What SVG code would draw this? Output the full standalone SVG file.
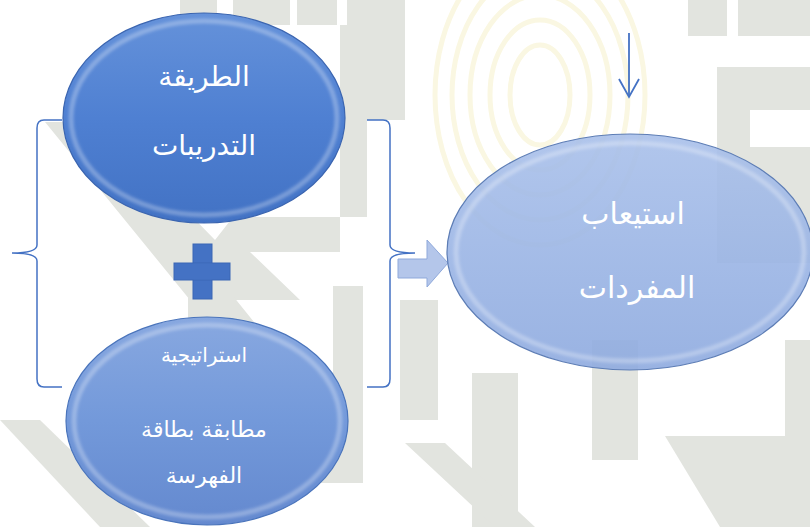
<svg xmlns="http://www.w3.org/2000/svg" width="810" height="527" viewBox="0 0 810 527">
  <defs>
    <style>
      .wm { fill: #e2e4df; }
      .arc { fill: none; stroke: #faf7e2; stroke-width: 5; }
      .lbl { font-family: "DejaVu Sans", sans-serif; fill: #ffffff; text-anchor: middle; }
      .brace { fill: none; stroke: #4472c4; stroke-width: 1.5; }
      .bevel { fill: none; stroke: #ffffff; stroke-width: 5; stroke-opacity: 0.28; filter: url(#soft); }
    </style>
    <filter id="soft" x="-10%" y="-10%" width="120%" height="120%">
      <feGaussianBlur stdDeviation="1.5"/>
    </filter>
    <linearGradient id="gTop" x1="0" y1="0" x2="0" y2="1">
      <stop offset="0" stop-color="#6592da"/>
      <stop offset="0.5" stop-color="#4f80d2"/>
      <stop offset="1" stop-color="#4272c4"/>
    </linearGradient>
    <linearGradient id="gBot" x1="0" y1="0" x2="0" y2="1">
      <stop offset="0" stop-color="#88a8e0"/>
      <stop offset="0.5" stop-color="#7399da"/>
      <stop offset="1" stop-color="#6489cf"/>
    </linearGradient>
    <linearGradient id="gRight" x1="0" y1="0" x2="0" y2="1">
      <stop offset="0" stop-color="#a9c0ea"/>
      <stop offset="0.5" stop-color="#9bb5e5"/>
      <stop offset="1" stop-color="#8eaadf"/>
    </linearGradient>
  </defs>

  <rect width="810" height="527" fill="#ffffff"/>

  <g id="watermark">
    <rect class="wm" x="180" y="0" width="37" height="25"/>
    <rect class="wm" x="233" y="0" width="57" height="25"/>
    <rect class="wm" x="297" y="0" width="40" height="25"/>
    <rect class="wm" x="347" y="0" width="58" height="25"/>
    <rect class="wm" x="688" y="0" width="39" height="36"/>
    <rect class="wm" x="738" y="0" width="72" height="36"/>
    <polygon class="wm" points="340,25 405,25 405,120 367,120 367,217 340,217"/>
    <polygon class="wm" points="45,122 100,122 215,240 233,217 340,217 340,252 250,252 300,300 190,300"/>
    <polygon class="wm" points="188,296 233,296 333,420 333,286 363,286 363,483 188,483"/>
    <polygon class="wm" points="400,300 438,300 438,420 400,420"/>
    <polygon class="wm" points="717,67 810,67 810,110 750,110 750,147 810,147 810,263 717,263"/>
    <polygon class="wm" points="472,373 518,373 518,527 472,527"/>
    <polygon class="wm" points="592,340 638,340 638,460 592,460"/>
    <polygon class="wm" points="785,340 810,340 810,436 785,436"/>
    <polygon class="wm" points="665,436 810,436 810,527 720,527"/>
    <polygon class="wm" points="405,443 445,443 535,527 495,527"/>
    <polygon class="wm" points="0,420 40,420 150,527 100,527"/>
    <g>
      <ellipse class="arc" cx="540" cy="95" rx="30" ry="50"/>
      <ellipse class="arc" cx="540" cy="95" rx="50" ry="75"/>
      <ellipse class="arc" cx="540" cy="95" rx="70" ry="100"/>
      <ellipse class="arc" cx="540" cy="95" rx="88" ry="125"/>
      <ellipse class="arc" cx="540" cy="95" rx="105" ry="150"/>
    </g>
  </g>

  <g id="connectors">
    <path class="brace" d="M62,120 L44,120 Q37,120 37,128 L37,245 Q37,253 12,253 Q37,253 37,261 L37,379 Q37,387 44,387 L62,387"/>
    <path class="brace" d="M367,120 L383,120 Q390,120 390,128 L390,245 Q390,253 415,253 Q390,253 390,261 L390,379 Q390,387 383,387 L367,387"/>
    <polygon points="398,259 427,259 427,240 448,263 427,287 427,278 398,278" fill="#b4c6ea" stroke="#8fa9db" stroke-width="1"/>
    <line x1="629" y1="33" x2="629" y2="96" stroke="#4472c4" stroke-width="1.8"/>
    <polyline points="619,79 629,97 639,79" fill="none" stroke="#4472c4" stroke-width="1.8"/>
  </g>

  <g id="node-plus">
    <rect x="193" y="244" width="19" height="55" fill="#4472c4" stroke="#3a66b5" stroke-width="1"/>
    <rect x="174" y="263" width="56" height="17" fill="#4472c4" stroke="#3a66b5" stroke-width="1"/>
    <rect x="193.5" y="263.5" width="18" height="16" fill="#4472c4"/>
  </g>

  <g id="node-method">
    <ellipse cx="204" cy="118" rx="141" ry="105" fill="url(#gTop)" stroke="#3b65b0" stroke-width="1.2"/>
    <ellipse class="bevel" cx="204" cy="118" rx="133" ry="97"/>
    <text class="lbl" x="204" y="86" font-size="28">الطريقة</text>
    <text class="lbl" x="204" y="155" font-size="28">التدريبات</text>
  </g>

  <g id="node-strategy">
    <ellipse cx="207" cy="421" rx="141" ry="104" fill="url(#gBot)" stroke="#4a74bb" stroke-width="1.2"/>
    <ellipse class="bevel" cx="207" cy="421" rx="133" ry="96"/>
    <text class="lbl" x="204" y="362" font-size="20">استراتيجية</text>
    <text class="lbl" x="204" y="437" font-size="22">مطابقة بطاقة</text>
    <text class="lbl" x="204" y="483" font-size="22">الفهرسة</text>
  </g>

  <g id="node-vocab">
    <ellipse cx="630" cy="252" rx="183" ry="118" fill="url(#gRight)" fill-opacity="0.9" stroke="#5d7db5" stroke-width="1.2"/>
    <ellipse class="bevel" cx="630" cy="252" rx="174" ry="109"/>
    <text class="lbl" x="633" y="224" font-size="30">استيعاب</text>
    <text class="lbl" x="637" y="298" font-size="30">المفردات</text>
  </g>
</svg>
